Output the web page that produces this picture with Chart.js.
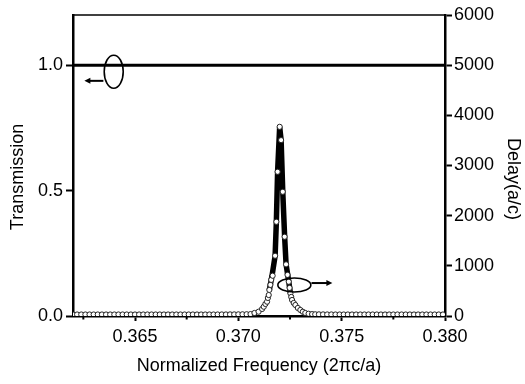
<!DOCTYPE html>
<html>
<head>
<meta charset="utf-8">
<script src="https://cdn.jsdelivr.net/npm/chart.js@4.4.0/dist/chart.umd.min.js"></script>
<style>
  html, body { margin: 0; padding: 0; background: #fff; }
</style>
</head>
<body>
<canvas id="chart" width="525" height="384"></canvas>
<script>
// Delay spectrum (open circles, right axis)
const delayFreq = [
    0.3620, 0.3622, 0.3624, 0.3626, 0.3628, 0.3630, 0.3632, 0.3634, 0.3636, 0.3638,
    0.3640, 0.3642, 0.3644, 0.3646, 0.3648, 0.3650, 0.3652, 0.3654, 0.3656, 0.3658,
    0.3660, 0.3662, 0.3664, 0.3666, 0.3668, 0.3670, 0.3672, 0.3674, 0.3676, 0.3678,
    0.3680, 0.3682, 0.3684, 0.3686, 0.3688, 0.3690, 0.3692, 0.3694, 0.3696, 0.3698,
    0.3700, 0.3702, 0.3704,
    0.37059, 0.37078, 0.37098, 0.37115, 0.37123, 0.37131, 0.37139, 0.37143, 0.37147, 0.37150,
    0.37155, 0.37159, 0.37166, 0.37178, 0.37184, 0.37190, 0.37200, 0.37207, 0.37215, 0.37224,
    0.37231, 0.37238, 0.37244, 0.37248, 0.37252, 0.37256, 0.37260, 0.37268, 0.37276, 0.37288,
    0.37300, 0.37312, 0.37324, 0.37340, 0.37357, 0.37372,
    0.3739, 0.3741, 0.3743, 0.3745, 0.3747, 0.3749, 0.3751, 0.3753, 0.3755, 0.3757,
    0.3759, 0.3761, 0.3763, 0.3765, 0.3767, 0.3769, 0.3771, 0.3773, 0.3775, 0.3777,
    0.3779, 0.3781, 0.3783, 0.3785, 0.3787, 0.3789, 0.3791, 0.3793, 0.3795, 0.3797,
    0.3799
];
const delayValues = [
    30, 30, 30, 30, 30, 30, 30, 30, 30, 30,
    30, 30, 30, 30, 30, 30, 30, 30, 30, 30,
    30, 30, 30, 30, 30, 30, 30, 30, 30, 30,
    30, 30, 30, 30, 30, 30, 31, 31, 32, 32,
    33, 34, 35,
    38, 60, 86, 140, 185, 240, 285, 360, 418, 520,
    620, 720, 803, 1201, 1878, 2875, 3771, 3506, 2476, 1580,
    1030, 820, 683, 560, 452, 380, 319, 260, 219, 160,
    120, 85, 60, 45, 38, 34,
    33, 32, 31, 31, 30, 30, 30, 30, 30, 30,
    30, 30, 30, 30, 30, 30, 30, 30, 30, 30,
    30, 30, 30, 30, 30, 30, 30, 30, 30, 30,
    30
];

// Transmission peak (thick line, left axis)
const transFreq = [0.37150, 0.37163, 0.37178, 0.37184, 0.37190, 0.37200, 0.37207, 0.37215, 0.37224, 0.37231, 0.37244, 0.37252];
const transValues = [0.104, 0.160, 0.240, 0.376, 0.575, 0.754, 0.701, 0.495, 0.316, 0.206, 0.137, 0.090];

// Flat transmission at 1.0
const flatFreq = [0.362, 0.380];
const flatValues = [1.0, 1.0];

// Ticks
const xMajorTicks = [0.365, 0.370, 0.375, 0.380];
const xMinorTicks = [0.3625, 0.3675, 0.3725, 0.3775];
const transTicks = [0.0, 0.5, 1.0];
const delayTicks = [0, 1000, 2000, 3000, 4000, 5000, 6000];

const FONT = "'Liberation Sans', Arial, Helvetica, sans-serif";
Chart.defaults.font.family = FONT;
Chart.defaults.font.size = 18;
Chart.defaults.color = '#000';

function toPoints(xs, ys) {
    return xs.map((x, i) => ({ x: x, y: ys[i] }));
}

// ellipse + arrow markers telling which axis each curve belongs to
const markers = [
    { axis: 'y', cx: 0.36397, cy: 0.974, rx: 9.5, ry: 16.5, from: [0.36347, 0.9375], to: [0.36255, 0.9375] },
    { axis: 'y2', cx: 0.37271, cy: 618, rx: 16.5, ry: 7, from: [0.37354, 657], to: [0.37455, 657] }
];

const framePlugin = {
    id: 'frame',
    afterDraw(chart) {
        const ctx = chart.ctx;
        const area = chart.chartArea;
        const xs = chart.scales.x;
        ctx.save();
        ctx.strokeStyle = '#000';
        ctx.fillStyle = '#000';

        // top border
        ctx.lineWidth = 1.5;
        ctx.beginPath();
        ctx.moveTo(area.left, area.top);
        ctx.lineTo(area.right, area.top);
        ctx.stroke();

        // minor ticks on x
        ctx.lineWidth = 2;
        xMinorTicks.forEach(v => {
            const px = xs.getPixelForValue(v);
            ctx.beginPath();
            ctx.moveTo(px, area.bottom);
            ctx.lineTo(px, area.bottom + 3.5);
            ctx.stroke();
        });

        // ellipses and arrows
        markers.forEach(m => {
            const ys = chart.scales[m.axis];
            ctx.lineWidth = 1.6;
            ctx.beginPath();
            ctx.ellipse(xs.getPixelForValue(m.cx), ys.getPixelForValue(m.cy), m.rx, m.ry, 0, 0, Math.PI * 2);
            ctx.stroke();

            const x1 = xs.getPixelForValue(m.from[0]), y1 = ys.getPixelForValue(m.from[1]);
            const x2 = xs.getPixelForValue(m.to[0]), y2 = ys.getPixelForValue(m.to[1]);
            const dir = Math.sign(x2 - x1);
            ctx.lineWidth = 2;
            ctx.beginPath();
            ctx.moveTo(x1, y1);
            ctx.lineTo(x2 - dir * 4, y2);
            ctx.stroke();
            ctx.beginPath();
            ctx.moveTo(x2, y2);
            ctx.lineTo(x2 - dir * 6, y2 - 3);
            ctx.lineTo(x2 - dir * 6, y2 + 3);
            ctx.closePath();
            ctx.fill();
        });

        // vertical axis titles
        ctx.font = '18px ' + FONT;
        ctx.textAlign = 'center';
        ctx.textBaseline = 'middle';
        ctx.save();
        ctx.translate(18, 177);
        ctx.rotate(-Math.PI / 2);
        ctx.fillText('Transmission', 0, 0);
        ctx.restore();
        ctx.save();
        ctx.translate(513, 179);
        ctx.rotate(Math.PI / 2);
        ctx.fillText('Delay(a/c)', 0, 0);
        ctx.restore();

        ctx.restore();
    }
};

const ctx = document.getElementById('chart');

new Chart(ctx, {
    type: 'scatter',
    data: {
        datasets: [
            {
                label: 'Delay',
                data: toPoints(delayFreq, delayValues),
                yAxisID: 'y2',
                showLine: false,
                pointRadius: 2.6,
                pointBackgroundColor: '#fff',
                pointBorderColor: '#222',
                pointBorderWidth: 1,
                order: 1
            },
            {
                label: 'Transmission peak',
                data: toPoints(transFreq, transValues),
                yAxisID: 'y',
                showLine: true,
                borderColor: '#000',
                borderWidth: 5.5,
                pointRadius: 0,
                order: 2
            },
            {
                label: 'Transmission',
                data: toPoints(flatFreq, flatValues),
                yAxisID: 'y',
                showLine: true,
                borderColor: '#000',
                borderWidth: 3,
                pointRadius: 0,
                order: 3
            }
        ]
    },
    options: {
        responsive: false,
        animation: false,
        layout: { padding: { top: 15, left: 0, right: 0, bottom: 0 } },
        plugins: {
            legend: { display: false },
            tooltip: { enabled: false }
        },
        scales: {
            x: {
                type: 'linear',
                position: 'bottom',
                min: 0.362,
                max: 0.380,
                afterBuildTicks: s => { s.ticks = xMajorTicks.map(v => ({ value: v })); },
                afterFit: s => { s.height = 68; s.paddingLeft = 0; s.paddingRight = 0; },
                ticks: { padding: 5, maxRotation: 0, autoSkip: false, callback: v => v.toFixed(3) },
                grid: { drawOnChartArea: false, tickLength: 5, tickWidth: 2, tickColor: '#000' },
                border: { color: '#000', width: 2.5 },
                title: { display: true, text: 'Normalized Frequency (2πc/a)', padding: { top: 0, bottom: 7 } }
            },
            y: {
                type: 'linear',
                position: 'left',
                min: 0,
                max: 1.2,
                afterBuildTicks: s => { s.ticks = transTicks.map(v => ({ value: v })); },
                afterFit: s => { s.width = 73; s.paddingTop = 0; s.paddingBottom = 0; },
                ticks: { padding: 3, callback: v => v.toFixed(1) },
                grid: { drawOnChartArea: false, tickLength: 7, tickWidth: 2, tickColor: '#000' },
                border: { color: '#000', width: 2.5 }
            },
            y2: {
                type: 'linear',
                position: 'right',
                min: 0,
                max: 6000,
                afterBuildTicks: s => { s.ticks = delayTicks.map(v => ({ value: v })); },
                afterFit: s => { s.width = 80; s.paddingTop = 0; s.paddingBottom = 0; },
                ticks: { padding: 2, callback: v => String(v) },
                grid: { drawOnChartArea: false, tickLength: 7, tickWidth: 2, tickColor: '#000' },
                border: { color: '#000', width: 2.5 }
            }
        }
    },
    plugins: [framePlugin]
});
</script>
</body>
</html>
